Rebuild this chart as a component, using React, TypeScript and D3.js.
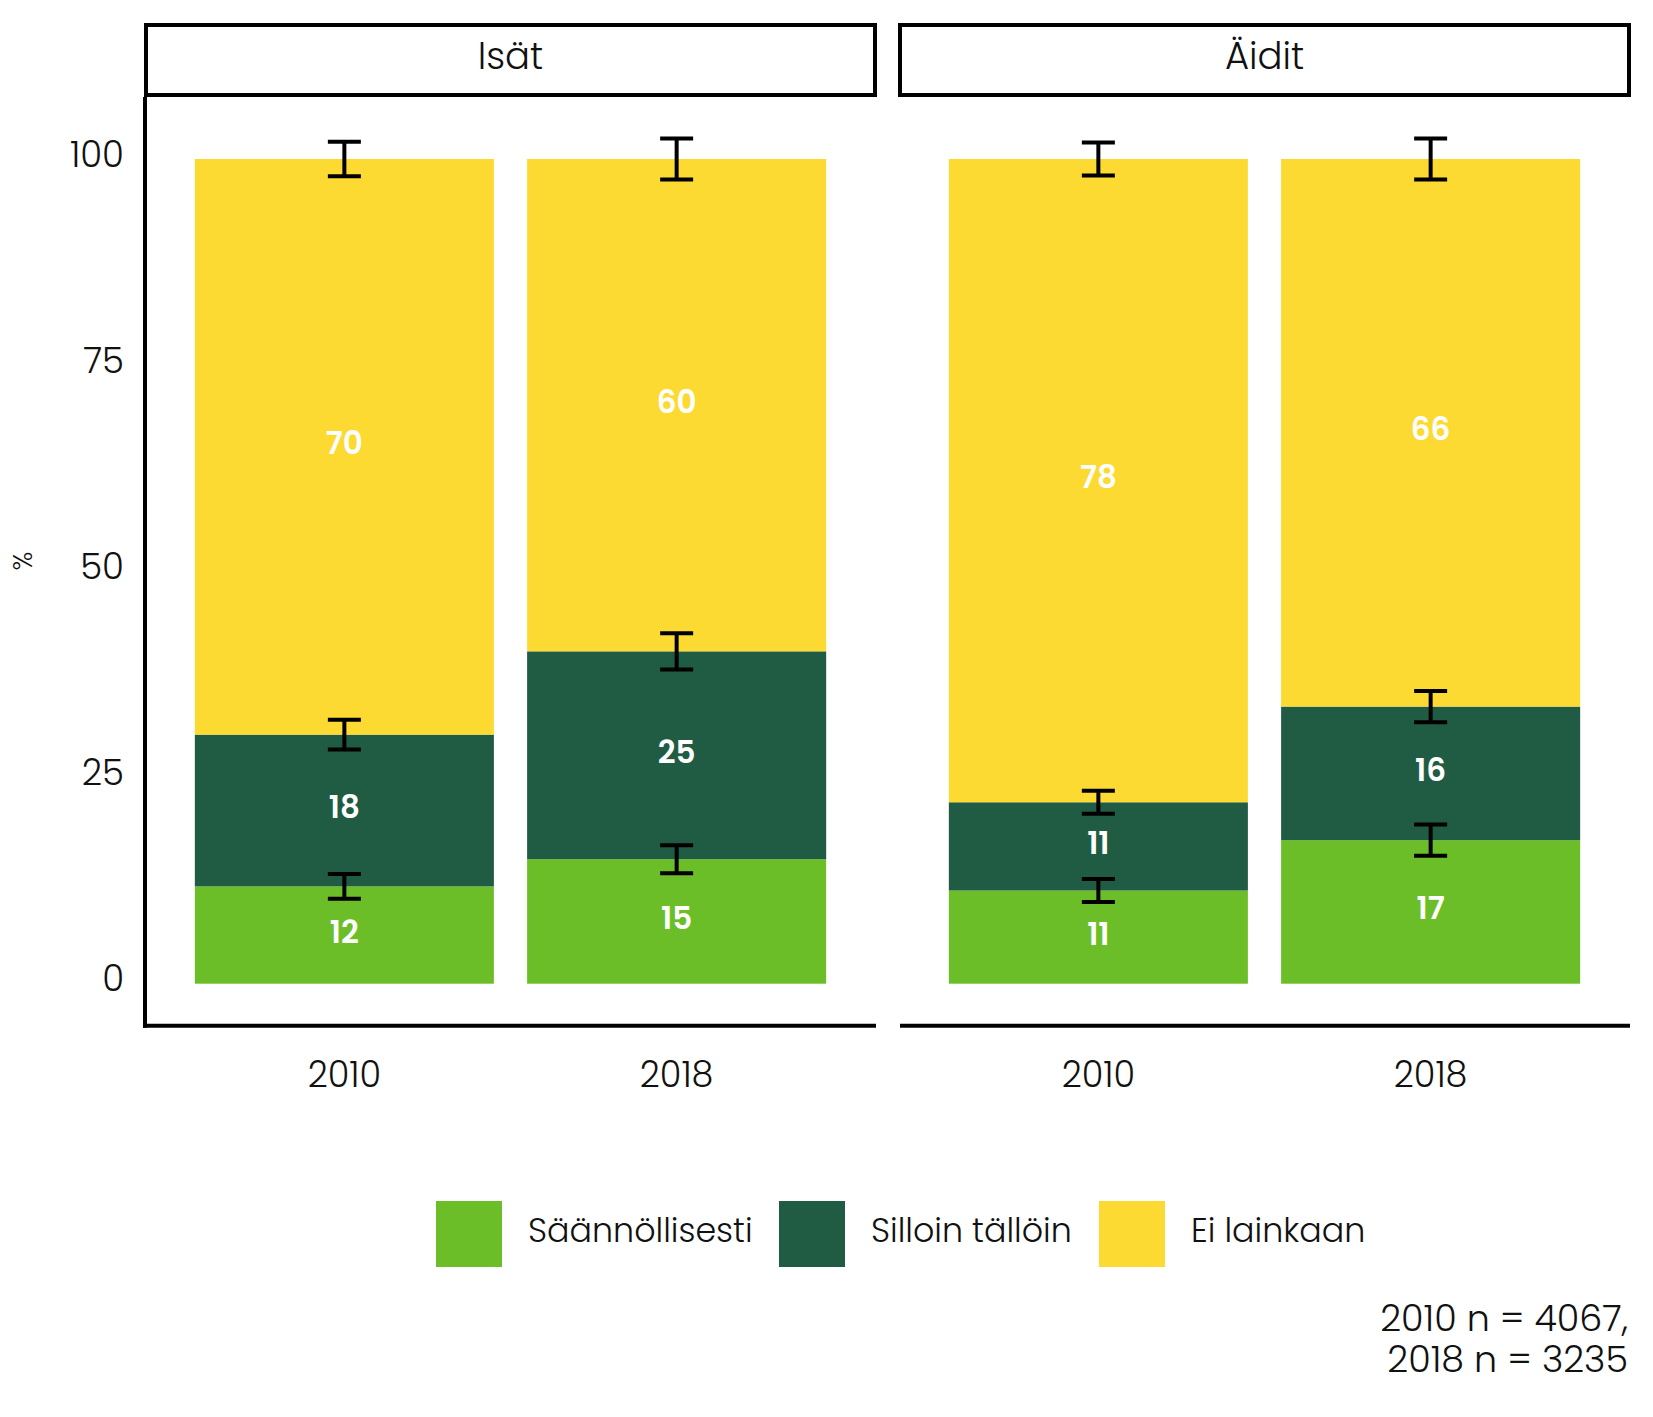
import React from "react";
import * as d3 from "d3";

// ---- data ----
const panels = ["Isät", "Äidit"];
const years = ["2010", "2018"];
const categories = ["Säännöllisesti", "Silloin tällöin", "Ei lainkaan"];
const categoryColors = ["#6CBE28", "#205B43", "#FDDA31"];
// order: Isät 2010, Isät 2018, Äidit 2010, Äidit 2018
const saannollisesti = [11.8, 15.1, 11.3, 17.4];
const silloinTalloin = [18.4, 25.2, 10.7, 16.2];
const eiLainkaan = [69.8, 59.7, 78.0, 66.4];
const ciSaannollisesti = [1.5, 1.7, 1.4, 1.9];
const ciSilloinTalloin = [1.8, 2.2, 1.4, 1.9];
const ciEiLainkaan = [2.1, 2.5, 2.0, 2.5];
const yTicks = [0, 25, 50, 75, 100];
const captionLines = ["2010 n = 4067,", "2018 n = 3235"];
const yTitle = "%";

const W = 1653;
const H = 1417;
const FONT = "Poppins, Inter, Lato, sans-serif";

type Row = { panel: string; year: string; [k: string]: any };

const rows: Row[] = [];
panels.forEach((p, pi) =>
  years.forEach((y, yi) => {
    const i = pi * 2 + yi;
    rows.push({
      panel: p,
      year: y,
      [categories[0]]: saannollisesti[i],
      [categories[1]]: silloinTalloin[i],
      [categories[2]]: eiLainkaan[i],
      ci: [ciSaannollisesti[i], ciSilloinTalloin[i], ciEiLainkaan[i]],
    });
  })
);

export default function App() {
  const panelRanges: [number, number][] = [
    [145, 876],
    [899, 1630],
  ];
  const panelTop = 97;
  const axisY = 1025.7;
  const y = d3.scaleLinear().domain([0, 100]).range([983.7, 159]);
  const color = d3.scaleOrdinal<string, string>().domain(categories).range(categoryColors);

  const stack = d3.stack<Row>().keys(categories);

  return (
    <svg
      width={W}
      height={H}
      style={{ position: "absolute", left: 0, top: 0, background: "#fff" }}
      fontFamily={FONT}
    >
      <rect x={0} y={0} width={W} height={H} fill="#fff" />
      {panels.map((p, pi) => {
        const [x0, x1] = panelRanges[pi];
        const x = d3.scaleBand().domain(years).range([x0, x1]).paddingInner(0.1).paddingOuter(0.15);
        const pRows = rows.filter((r) => r.panel === p);
        const series = stack(pRows);
        return (
          <g key={p}>
            {/* strip */}
            <rect x={x0 + 1} y={25} width={x1 - x0 - 2} height={70} fill="#fff" stroke="#000" strokeWidth={4} />
            <text x={(x0 + x1) / 2} y={68.5} textAnchor="middle" fontSize={37} fontWeight={300} fill="#111">
              {p}
            </text>
            {/* bars */}
            {series.map((s, si) =>
              s.map((d, di) => (
                <rect
                  key={`${si}-${di}`}
                  x={x(d.data.year)!}
                  width={x.bandwidth()}
                  y={y(d[1])}
                  height={y(d[0]) - y(d[1])}
                  fill={color(s.key)}
                />
              ))
            )}
            {/* value labels */}
            {series.map((s, si) =>
              s.map((d, di) => (
                <text
                  key={`l${si}-${di}`}
                  x={x(d.data.year)! + x.bandwidth() / 2}
                  y={(y(d[0]) + y(d[1])) / 2 + 7.5}
                  textAnchor="middle"
                  fontSize={31}
                  fontWeight={600}
                  fill="#fff"
                >
                  {Math.round(d[1] - d[0])}
                </text>
              ))
            )}
            {/* error bars */}
            {series.map((s, si) =>
              s.map((d, di) => {
                const cx = x(d.data.year)! + x.bandwidth() / 2;
                const ci = d.data.ci[si];
                const yt = y(d[1] + ci);
                const yb = y(d[1] - ci);
                return (
                  <g key={`e${si}-${di}`} stroke="#000" strokeWidth={4}>
                    <line x1={cx} x2={cx} y1={yt} y2={yb} />
                    <line x1={cx - 16.5} x2={cx + 16.5} y1={yt} y2={yt} />
                    <line x1={cx - 16.5} x2={cx + 16.5} y1={yb} y2={yb} />
                  </g>
                );
              })
            )}
            {/* x axis */}
            <line x1={pi === 0 ? x0 - 2 : x0 + 1} x2={x1} y1={axisY} y2={axisY} stroke="#000" strokeWidth={4} />
            {years.map((yr) => (
              <text
                key={yr}
                x={x(yr)! + x.bandwidth() / 2}
                y={1087}
                textAnchor="middle"
                fontSize={35}
                fontWeight={300}
                fill="#111"
              >
                {yr}
              </text>
            ))}
            {pi === 0 && (
              <g>
                <line x1={x0} x2={x0} y1={panelTop} y2={axisY + 2} stroke="#000" strokeWidth={4} />
                {yTicks.map((t) => (
                  <text
                    key={t}
                    x={124}
                    y={y(t) + 7.7}
                    textAnchor="end"
                    fontSize={35.5}
                    fontWeight={300}
                    fill="#111"
                  >
                    {t}
                  </text>
                ))}
              </g>
            )}
          </g>
        );
      })}
      {/* y title */}
      <text
        transform={`translate(${32},${561}) rotate(-90)`}
        textAnchor="middle"
        fontSize={26}
        fontWeight={300}
        fill="#111"
      >
        {yTitle}
      </text>
      {/* legend */}
      {categories.map((c, i) => {
        const keyX = [436, 779, 1099][i];
        return (
          <g key={c}>
            <rect x={keyX} y={1201} width={66} height={66} fill={categoryColors[i]} />
            <text x={keyX + 92} y={1242} fontSize={33.3} fontWeight={300} fill="#111">
              {c}
            </text>
          </g>
        );
      })}
      {/* caption */}
      {captionLines.map((l, i) => (
        <text key={i} x={1628} y={1331 + i * 41} textAnchor="end" fontSize={36.5} fontWeight={300} fill="#111">
          {l}
        </text>
      ))}
    </svg>
  );
}
